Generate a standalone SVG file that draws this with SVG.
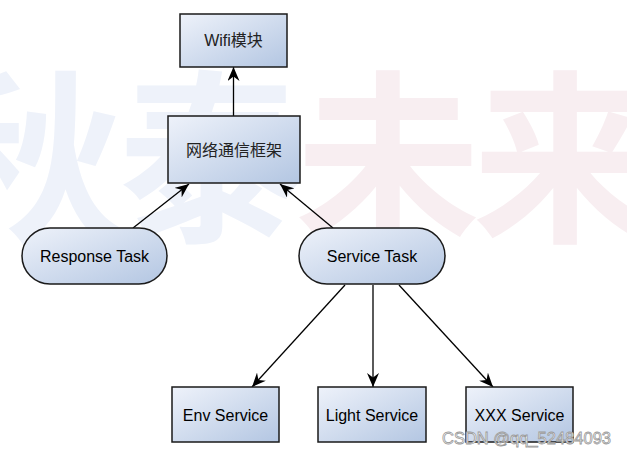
<svg xmlns="http://www.w3.org/2000/svg" width="627" height="456" viewBox="0 0 627 456">
<defs>
<linearGradient id="g" x1="0" y1="0" x2="1" y2="1">
<stop offset="0" stop-color="#eef2fa"/>
<stop offset="1" stop-color="#b3c6e2"/>
</linearGradient>
<marker id="arr" viewBox="0 0 14 12" refX="14" refY="6" markerWidth="14" markerHeight="12" markerUnits="userSpaceOnUse" orient="auto">
<path d="M0,0 L14,6 L0,12 L4.5,6 Z" fill="#000"/>
</marker>
<style>
.n{fill:url(#g);stroke:#1a1a1a;stroke-width:1.5}
.t{font-family:"Liberation Sans",Arial,sans-serif;font-size:16px;fill:#000;text-anchor:middle}
.c{font-family:"Noto Sans CJK SC",sans-serif;font-size:16px;fill:#222;text-anchor:middle}
.e{stroke:#000;stroke-width:1.3;fill:none;marker-end:url(#arr)}
.wm{font-family:"Noto Sans CJK SC",sans-serif;font-weight:bold;font-size:185px;text-anchor:middle}
</style>
</defs>
<rect width="627" height="456" fill="#fff"/>
<g id="watermark">
<text class="wm" x="30" y="228" fill="#eef2fa">秋</text>
<text class="wm" x="211" y="228" fill="#eef2fa">泰</text>
<text class="wm" x="388" y="228" fill="#f8eef1">未</text>
<text class="wm" x="565" y="228" fill="#f8eef1">来</text>
</g>
<g id="connectors">
<line class="e" x1="233.5" y1="116" x2="233.5" y2="67"/>
<line class="e" x1="133" y1="228" x2="189" y2="184"/>
<line class="e" x1="333" y1="228" x2="280" y2="184"/>
<line class="e" x1="345" y1="285" x2="252" y2="387"/>
<line class="e" x1="373" y1="285" x2="373" y2="387"/>
<line class="e" x1="399" y1="285" x2="493" y2="387"/>
</g>
<g id="wifi">
<rect class="n" x="180" y="14" width="107" height="53"/>
<text class="c" x="233.5" y="46" style="font-family:'Liberation Sans','Noto Sans CJK SC',sans-serif">Wifi模块</text>
</g>
<g id="framework">
<rect class="n" x="168" y="116" width="132" height="67"/>
<text class="c" x="234" y="156">网络通信框架</text>
</g>
<g id="response">
<rect class="n" x="22" y="228" width="145" height="56" rx="28"/>
<text class="t" x="94.5" y="262">Response Task</text>
</g>
<g id="service">
<rect class="n" x="299" y="228" width="146" height="56" rx="28"/>
<text class="t" x="372" y="262">Service Task</text>
</g>
<g id="env">
<rect class="n" x="172" y="387" width="107" height="55"/>
<text class="t" x="225.5" y="421">Env Service</text>
</g>
<g id="light">
<rect class="n" x="318" y="387" width="108" height="55"/>
<text class="t" x="372" y="421">Light Service</text>
</g>
<g id="xxx">
<rect class="n" x="466" y="387" width="107" height="55"/>
<text class="t" x="519.5" y="421">XXX Service</text>
</g>
<text x="442" y="444" font-family="'Liberation Sans',Arial,sans-serif" font-size="16.5" fill="#fff" stroke="#999" stroke-width="0.8">CSDN @qq_52484093</text>
</svg>
